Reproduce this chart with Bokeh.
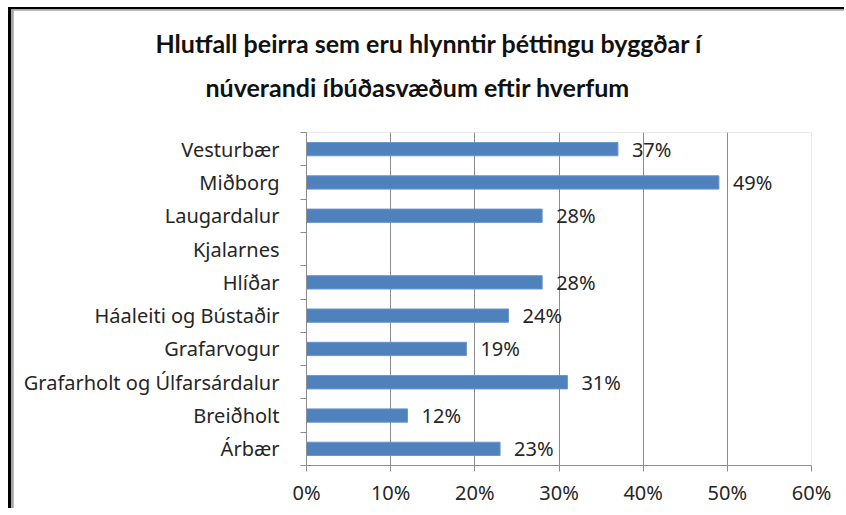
from bokeh.plotting import figure
from bokeh.models import FixedTicker, ColumnDataSource, Range1d, Title, LinearAxis
from bokeh.embed import file_html
from bokeh.resources import INLINE
from bokeh.core.properties import value

# ---- data ----
categories = ["Vesturbær", "Miðborg", "Laugardalur", "Kjalarnes", "Hlíðar",
              "Háaleiti og Bústaðir", "Grafarvogur", "Grafarholt og Úlfarsárdalur",
              "Breiðholt", "Árbær"]
values = [37, 49, 28, None, 28, 24, 19, 31, 12, 23]
x_ticks = [0, 10, 20, 30, 40, 50, 60]
x_tick_labels = ["0%", "10%", "20%", "30%", "40%", "50%", "60%"]
title_lines = ["Hlutfall þeirra sem eru  hlynntir þéttingu byggðar í",
               "núverandi íbúðasvæðum    eftir hverfum"]

n = len(categories)
centers = [n - i - 0.5 for i in range(n)]

bar_y = [c for c, v in zip(centers, values) if v is not None]
bar_x = [v for v in values if v is not None]
bar_lbl = [f"{v}%" for v in bar_x]
src = ColumnDataSource(dict(y=bar_y, x=bar_x, lbl=bar_lbl))

TEXT = "#262626"
GRID = "#8c8c8c"
FONT = "Noto Sans"

p = figure(frame_width=505, frame_height=333, output_backend="svg", toolbar_location=None,
           x_range=Range1d(0, 60), y_range=Range1d(0, n),
           min_border_left=293, min_border_right=33, min_border_top=122, min_border_bottom=42)
p.outline_line_color = None
p.background_fill_color = "white"
p.border_fill_color = "white"
p.styles = {"margin-left": "8px", "margin-top": "7px",
            "border-top": "2px solid black", "border-left": "3px solid black",
            "padding-top": "1px", "padding-left": "2px",
            "background-color": "#a6a6a6"}

p.hbar(y="y", right="x", left=0, height=0.4, source=src, fill_color="#4F81BD",
       line_color="#6a96cc", line_width=1)
p.text(x="x", y="y", text="lbl", source=src, x_offset=14, text_baseline="middle",
       text_font=value(FONT), text_font_size="20px", text_color=TEXT)

# x axis
p.xaxis.ticker = FixedTicker(ticks=x_ticks, minor_ticks=[])
p.xaxis.major_label_overrides = {t: l for t, l in zip(x_ticks, x_tick_labels)}
p.xaxis.major_tick_in = 0
p.xaxis.major_tick_out = 6
p.xaxis.major_tick_line_color = GRID
p.xaxis.axis_line_color = GRID
p.xaxis.major_label_text_font = FONT
p.xaxis.major_label_text_font_size = "20px"
p.xaxis.major_label_text_color = TEXT
p.xaxis.major_label_standoff = 7

# y axis
p.yaxis.ticker = FixedTicker(ticks=centers, minor_ticks=list(range(n + 1)))
p.yaxis.major_label_overrides = {c: name for c, name in zip(centers, categories)}
p.yaxis.major_tick_in = 0
p.yaxis.major_tick_out = 0
p.yaxis.minor_tick_in = 0
p.yaxis.minor_tick_out = 6
p.yaxis.minor_tick_line_color = GRID
p.yaxis.axis_line_color = GRID
p.yaxis.major_label_text_font = FONT
p.yaxis.major_label_text_font_size = "20px"
p.yaxis.major_label_text_color = TEXT
p.yaxis.major_label_standoff = 21

p.ygrid.visible = False
p.xgrid.ticker = FixedTicker(ticks=x_ticks, minor_ticks=[])
p.xgrid.grid_line_color = GRID

# invisible spacer between plot area and title (one white tick, no label)
spacer = LinearAxis(ticker=FixedTicker(ticks=[30], minor_ticks=[]), axis_line_color=None,
                    major_tick_line_color="white", minor_tick_line_color=None,
                    major_tick_in=0, major_tick_out=25, minor_tick_out=0,
                    major_label_standoff=0, axis_label_standoff=0,
                    major_label_overrides={30: ""},
                    major_label_text_font_size="1px", major_label_text_color="white")
p.add_layout(spacer, "above")

# title, two lines (first added sits closest to the plot)
for txt, off in [(title_lines[1], -101), (title_lines[0], -151)]:
    p.add_layout(Title(text=txt, align="left", offset=off, standoff=12,
                       text_font="Lato", text_font_style="bold", text_font_size="25px",
                       text_color="#111111"), "above")

open("out.html", "w").write(file_html(p, INLINE))
